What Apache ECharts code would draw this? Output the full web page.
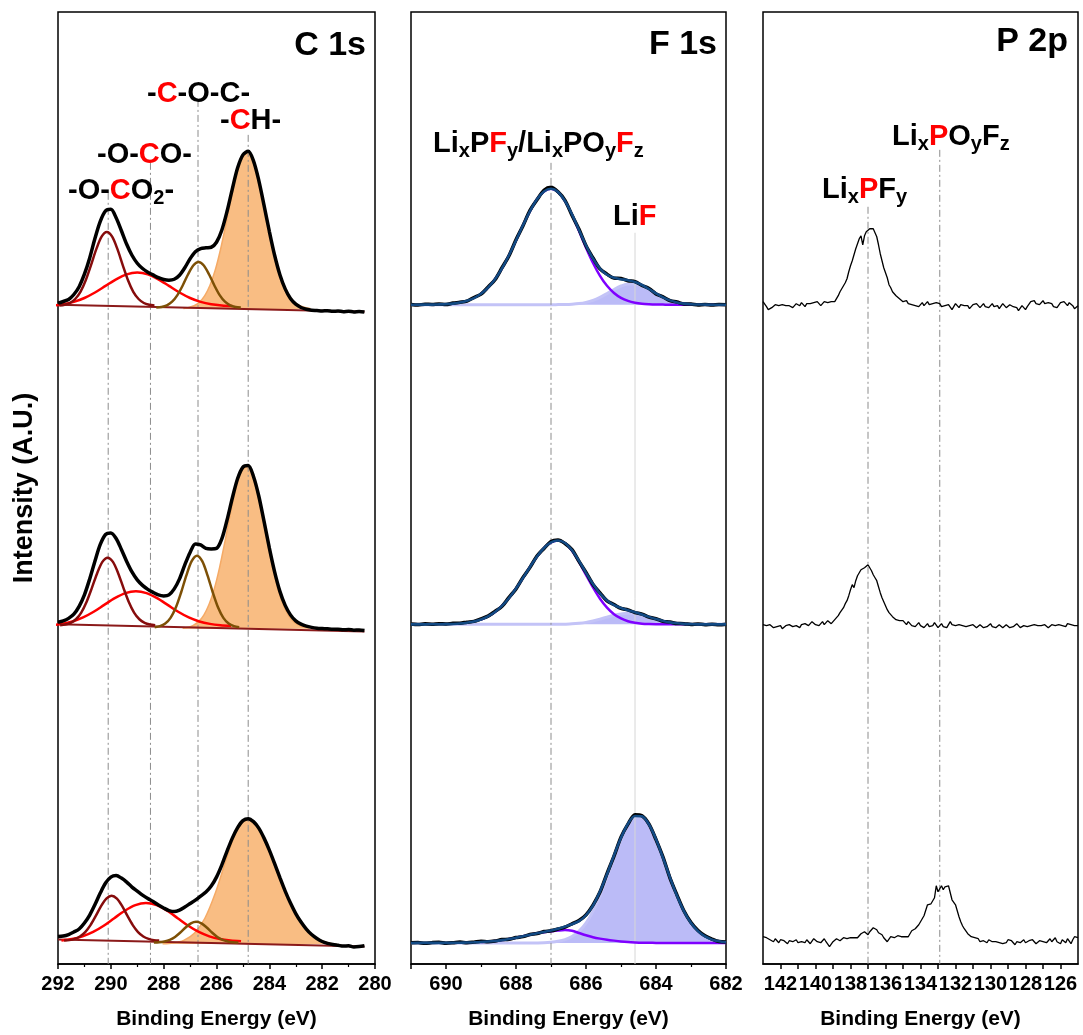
<!DOCTYPE html>
<html>
<head>
<meta charset="utf-8">
<title>XPS C 1s / F 1s / P 2p</title>
<script src="https://cdn.jsdelivr.net/npm/echarts@6/dist/echarts.min.js"></script>
<style>
  html, body { margin: 0; padding: 0; background: #fff; }
  #chart { width: 1083px; height: 1035px; }
</style>
</head>
<body>
<div id="chart"></div>
<script>
// ---- C 1s : measured spectra, 292 -> 280.4 eV, 0.2 eV step (top, middle, bottom) ----
const c1sTop = [0.15,0.32,0.52,1.02,1.80,3.05,4.68,6.65,8.35,9.40,9.55,8.70,7.40,6.05,4.95,4.15,3.62,3.25,2.98,2.70,2.52,2.45,2.55,2.95,3.70,4.60,5.30,5.62,5.70,5.75,6.25,7.45,9.35,11.6,13.7,15.0,15.35,14.4,12.45,9.95,7.35,4.95,3.0,1.58,0.62,0.05,-0.28,-0.45,-0.55,-0.58,-0.62,-0.60,-0.66,-0.63,-0.70,-0.66,-0.72,-0.68,-0.74];
const c1sMid = [0.22,0.35,0.60,1.02,1.80,2.95,4.55,6.35,8.00,9.00,9.15,8.60,7.50,6.30,5.25,4.45,3.90,3.50,3.20,2.95,2.85,2.95,3.55,4.55,5.95,7.20,8.05,7.95,7.60,7.55,7.60,8.55,10.45,12.65,14.6,15.75,15.9,14.8,12.85,10.3,7.65,5.25,3.30,1.90,0.95,0.35,0.02,-0.18,-0.30,-0.38,-0.42,-0.45,-0.50,-0.48,-0.55,-0.52,-0.58,-0.56,-0.62];
const c1sBot = [0.30,0.35,0.50,0.75,1.05,1.65,2.45,3.50,4.65,5.65,6.25,6.40,6.15,5.75,5.25,4.85,4.45,4.10,3.80,3.45,3.15,2.90,2.80,2.95,3.25,3.60,3.95,4.35,4.75,5.35,6.25,7.45,8.85,10.15,11.2,11.9,12.1,11.8,11.15,10.15,8.95,7.60,6.20,4.85,3.65,2.60,1.75,1.05,0.50,0.10,-0.20,-0.38,-0.50,-0.58,-0.66,-0.62,-0.74,-0.70,-0.62];

// C 1s fitted components (own start energy and step)
const co2Top = [-0.09,-0.01,0.17,0.57,1.29,2.45,3.97,5.56,6.81,7.28,6.81,5.56,3.97,2.45,1.29,0.57,0.17,-0.01,-0.09];
const co2Mid = [-0.09,-0.02,0.15,0.51,1.18,2.24,3.63,5.10,6.25,6.68,6.25,5.10,3.63,2.24,1.18,0.51,0.15,-0.02,-0.09];
const co2Bot = [-0.10,-0.06,0.06,0.30,0.74,1.44,2.36,3.34,4.09,4.38,4.09,3.34,2.36,1.44,0.74,0.30,0.06,-0.06,-0.10];
const coTop = [-0.08,0.04,0.28,0.67,1.22,1.88,2.54,3.04,3.22,3.04,2.54,1.88,1.22,0.67,0.28,0.04,-0.08,-0.14];
const coMid = [-0.08,0.05,0.29,0.69,1.26,1.95,2.62,3.13,3.32,3.13,2.62,1.95,1.26,0.69,0.29,0.05,-0.08,-0.14];
const coBot = [-0.09,0.05,0.32,0.76,1.38,2.14,2.88,3.44,3.65,3.44,2.88,2.14,1.38,0.76,0.32,0.05,-0.09,-0.16];
const cocTop = [-0.29,-0.23,-0.06,0.30,0.96,1.92,3.02,3.93,4.28,3.93,3.02,1.92,0.96,0.30,-0.06,-0.23,-0.29];
const cocMid = [-0.28,-0.18,0.08,0.65,1.68,3.19,4.91,6.33,6.88,6.33,4.91,3.19,1.68,0.65,0.08,-0.18,-0.28];
const cocBot = [-0.31,-0.28,-0.20,-0.04,0.26,0.70,1.20,1.62,1.78,1.62,1.20,0.70,0.26,-0.04,-0.20,-0.28,-0.31];
const chTop = [-0.38,-0.29,-0.11,0.25,0.88,1.92,3.44,5.50,7.97,10.59,12.93,14.57,15.16,14.57,12.93,10.59,7.97,5.50,3.44,1.92,0.88,0.25,-0.11,-0.29,-0.38];
const chMid = [-0.38,-0.29,-0.10,0.27,0.93,2.01,3.59,5.73,8.29,11.01,13.44,15.14,15.76,15.14,13.44,11.01,8.29,5.73,3.59,2.01,0.93,0.27,-0.10,-0.29,-0.38];
const chBot = [-0.42,-0.34,-0.08,0.62,2.13,4.68,7.95,10.84,12.01,11.18,9.07,6.35,3.78,1.82,0.56,-0.10,-0.43,-0.60];

// ---- F 1s : 691 -> 682 eV, 0.2 eV step ----
const f1sTop = [0.02,-0.04,0.05,0.03,0.08,0.02,0.16,0.24,0.36,0.72,1.05,1.76,2.50,3.70,4.90,6.50,7.90,9.45,10.5,11.45,11.75,11.3,10.45,8.95,7.55,5.90,4.68,3.58,3.06,2.66,2.62,2.40,2.31,1.92,1.62,1.08,0.78,0.40,0.27,0.08,0.07,-0.02,0.03,-0.03,0.02,0.0];
const f1sMid = [0.03,-0.02,0.05,0.02,0.06,0.04,0.10,0.12,0.22,0.30,0.55,0.82,1.30,1.80,2.70,3.55,4.70,5.70,6.85,7.60,8.30,8.45,8.10,7.48,6.30,5.20,4.00,3.15,2.35,1.98,1.60,1.45,1.18,1.02,0.72,0.56,0.30,0.23,0.08,0.07,-0.02,0.04,-0.03,0.02,-0.05,0.01];
const f1sBot = [0.02,0.05,-0.03,0.04,0.08,-0.02,0.03,0.10,0.02,0.09,0.18,0.12,0.20,0.35,0.38,0.55,0.64,0.86,0.95,1.15,1.22,1.40,1.60,1.92,2.25,2.82,3.80,5.10,6.95,8.70,10.6,11.9,12.85,12.75,11.9,10.35,8.60,6.50,4.80,3.20,2.05,1.25,0.72,0.40,0.15,0.10];
const envTop = [0,0,0.01,0.01,0.03,0.06,0.11,0.21,0.39,0.66,1.09,1.71,2.55,3.64,4.95,6.43,7.95,9.37,10.56,11.33,11.6,11.29,10.38,9.04,7.48,5.94,4.61,3.62,3.00,2.69,2.55,2.45,2.27,1.97,1.57,1.13,0.74,0.43,0.23,0.11,0.05,0.02,0.01,0,0,0];
const envMid = [0,0,0,0.01,0.01,0.02,0.04,0.08,0.16,0.28,0.48,0.79,1.24,1.85,2.64,3.59,4.65,5.75,6.79,7.64,8.21,8.4,8.15,7.42,6.36,5.16,4.04,3.09,2.40,1.93,1.64,1.41,1.21,0.98,0.75,0.53,0.34,0.20,0.11,0.05,0.02,0,0,0,0,0];
const envBot = [0,0.01,0.01,0.01,0.01,0.01,0.02,0.03,0.05,0.07,0.10,0.15,0.21,0.29,0.40,0.53,0.68,0.83,0.98,1.11,1.25,1.42,1.64,1.88,2.19,2.78,3.75,5.16,6.88,8.77,10.54,11.94,12.71,12.68,11.86,10.39,8.53,6.55,4.72,3.17,2.00,1.19,0.66,0.34,0.17,0.08];
// LiF component (691 -> 682)
const lifTop = [0,0,0,0,0,0,0,0,0,0,0,0,0,0,0,0,0,0,0,0,0,0.01,0.02,0.05,0.11,0.23,0.43,0.73,1.11,1.52,1.87,2.07,2.07,1.87,1.52,1.11,0.73,0.43,0.23,0.11,0.05,0.02,0.01,0,0,0];
const lifMid = [0,0,0,0,0,0,0,0,0,0,0,0,0,0,0,0,0,0,0,0,0,0,0.02,0.05,0.11,0.20,0.34,0.52,0.72,0.91,1.05,1.1,1.05,0.91,0.72,0.52,0.34,0.20,0.11,0.05,0.02,0,0,0,0,0];
const lifBot = [0,0,0,0,0,0,0,0,0,0,0,0,0,0,0,0,0,0,0.01,0.03,0.08,0.17,0.34,0.66,1.19,2.00,3.17,4.72,6.55,8.53,10.38,11.84,12.65,12.65,11.84,10.38,8.53,6.55,4.72,3.17,2.00,1.19,0.66,0.34,0.17,0.08];
// LixPFy / LixPOyFz component (689 -> 682)
const pfTop = [1.09,1.71,2.55,3.64,4.95,6.43,7.95,9.37,10.56,11.33,11.6,11.28,10.36,8.99,7.37,5.71,4.18,2.89,1.89,1.17,0.68,0.38,0.20,0.10,0.05,0.02,0.01,0,0,0,0,0,0,0,0,0];
const pfMid = [0.48,0.79,1.24,1.85,2.64,3.59,4.65,5.75,6.79,7.64,8.21,8.4,8.13,7.37,6.25,4.96,3.70,2.57,1.68,1.02,0.59,0.31,0.16,0.07,0.03,0.01,0,0,0,0,0,0,0,0,0,0];
const pfBot = [0.10,0.15,0.21,0.29,0.40,0.53,0.68,0.83,0.97,1.08,1.17,1.25,1.30,1.22,1.0,0.78,0.58,0.44,0.33,0.24,0.16,0.10,0.06,0.03,0.02,0.01,0,0,0,0,0,0,0,0,0,0];

// ---- P 2p : 143 -> 125 eV, 0.1 eV step ----
const p2pTop = [0.3,0.1,-0.2,-0.5,-0.6,-0.3,-0.1,0.0,-0.2,-0.1,0.1,0.0,-0.2,-0.1,0.1,-0.1,0.0,-0.3,-0.1,0.1,0.0,-0.1,0.2,0.0,-0.2,0.1,0.3,0.1,-0.1,0.2,0.0,0.3,0.2,-0.1,0.1,0.3,0.1,0.2,0.0,0.3,0.2,
  0.3,0.6,0.9,1.3,1.5,1.9,2.2,2.6,3.3,3.9,4.4,5.0,5.6,6.1,6.6,6.9,6.0,6.9,7.3,7.5,7.6,7.5,7.6,7.2,6.8,6.0,5.1,4.4,3.7,3.2,2.7,2.0,1.7,1.3,1.2,0.9,1.0,0.6,0.5,0.3,
  0.2,0.4,0.1,0.3,0.0,0.2,-0.1,0.1,-0.2,0.0,0.2,-0.1,0.1,0.3,0.0,-0.2,0.1,-0.1,0.2,0.4,
  0.1,-0.2,-0.4,-0.1,-0.3,0.0,-0.2,-0.5,-0.2,0.1,-0.1,-0.3,0.0,0.2,-0.1,-0.3,-0.1,-0.4,-0.2,0.0,
  -0.2,0.1,-0.1,-0.3,-0.1,0.1,-0.2,0.0,-0.3,-0.1,0.1,-0.2,0.0,-0.1,-0.4,-0.2,0.1,-0.1,-0.3,-0.2,
  0.0,0.1,-0.2,0.0,-0.3,-0.6,-0.4,-0.1,-0.3,-0.5,-0.2,0.0,0.3,0.1,0.4,0.1,0.3,0.0,0.2,0.4,
  0.1,-0.1,0.2,0.4,0.1,-0.2,0.0,-0.3,-0.1,0.2,0.0,0.3,0.1,-0.1,0.2,0.3,-0.1,-0.4,-0.2,-0.1];
const p2pMid = [0.2,0.4,0.1,0.0,0.2,0.1,-0.1,0.1,0.0,0.2,0.1,-0.2,0.0,0.1,-0.1,0.2,0.3,0.0,0.2,0.1,0.0,-0.1,0.2,0.1,0.3,0.4,0.1,0.2,0.5,0.3,0.2,0.4,0.1,0.3,0.5,0.2,0.3,0.6,0.4,0.3,0.5,
  0.7,0.9,1.1,1.4,1.6,1.9,2.3,2.6,3.1,3.7,4.2,3.9,4.6,5.1,5.4,5.7,5.8,5.9,6.1,6.2,6.0,5.6,5.2,4.9,4.6,4.0,3.4,2.9,2.5,2.1,1.7,1.4,1.2,1.0,0.9,0.7,0.8,0.6,0.7,0.6,
  0.4,0.2,0.5,0.3,0.1,0.3,0.0,0.2,0.4,0.1,0.2,-0.1,0.1,0.3,0.0,0.2,0.1,0.4,0.2,-0.1,
  0.1,0.3,0.0,0.2,-0.1,0.1,0.5,0.2,0.0,0.1,-0.1,0.2,0.0,0.1,0.3,0.0,-0.2,0.1,0.0,0.2,
  0.1,-0.1,0.0,0.2,0.1,-0.1,0.1,0.0,0.2,0.3,0.0,0.1,-0.1,0.0,0.2,0.1,-0.1,0.0,0.2,0.1,
  -0.1,0.1,0.0,0.2,0.3,0.1,-0.1,0.0,0.1,0.2,0.0,-0.1,0.1,0.3,0.2,0.0,0.1,0.3,0.1,0.0,
  0.2,0.1,-0.1,0.0,0.2,0.3,0.1,0.0,0.2,0.4,0.1,0.2,0.0,0.3,0.1,0.2,0.4,0.1,-0.1,0.1];
const p2pBot = [0.4,0.5,0.3,0.2,0.1,0.0,-0.1,0.2,0.0,-0.2,0.1,-0.1,0.0,-0.2,-0.3,0.0,-0.2,-0.1,-0.3,0.1,-0.2,-0.4,-0.1,0.0,-0.2,0.1,-0.1,-0.3,-0.1,0.2,0.1,-0.1,0.1,-0.2,0.0,0.2,-0.1,-0.3,-0.6,-0.4,-0.1,
  0.0,0.2,0.1,0.0,0.2,0.3,0.1,0.2,0.4,0.3,0.1,0.3,0.5,0.3,0.4,0.7,0.6,0.9,0.7,0.6,
  0.9,1.1,1.3,1.4,1.1,0.8,0.9,0.6,0.3,0.2,-0.1,0.1,0.4,0.5,0.3,0.4,0.5,0.3,0.4,0.3,
  0.4,0.3,0.4,0.7,1.0,0.9,1.2,1.4,1.6,1.9,2.2,2.5,2.7,3.6,3.7,3.7,3.9,4.3,5.5,4.9,
  5.1,5.5,5.1,5.4,5.3,5.5,4.8,4.1,4.2,3.6,3.0,2.4,1.9,1.5,1.2,1.0,0.7,0.5,0.4,0.2,
  0.3,0.1,0.2,-0.1,0.1,0.0,0.2,-0.2,0.1,0.0,-0.1,-0.3,-0.1,0.1,-0.2,0.0,-0.3,-0.1,-0.2,0.1,
  -0.1,0.0,-0.2,-0.4,-0.1,0.1,-0.2,-0.1,0.1,-0.2,-0.3,0.0,-0.2,0.1,-0.1,-0.3,-0.2,0.0,0.2,-0.1,
  0.1,-0.2,0.0,0.2,-0.1,0.1,0.3,-0.1,0.0,-0.3,0.1,0.3,-0.2,0.2,0.0,-0.3,0.1,0.4,0.2,0.3];

// vertical offsets of the three stacked spectra (top, middle, bottom)
const c1sOffsets = [66, 34, 2.45];
const f1sOffsets = [66, 34, 2.1];
const p2pOffsets = [66, 33.77, 2.33];

// peak reference lines: energy and upper end
const c1sMarks = [290.1, 288.5, 286.7, 284.8];
const c1sMarkTops = [77.2, 80.2, 86.5, 83.0];
const f1sMarks = [687.0, 684.6];
const f1sMarkTops = [80.2, 73.2];
const p2pMarks = [137.0, 132.9];
const p2pMarkTops = [75.8, 81.5];

const FONT = 'Liberation Sans, Arial, Helvetica, sans-serif';

function onGrid(start, step, values) {
  return values.map((v, i) => [+(start - i * step).toFixed(2), v]);
}
function lift(points, off) {
  return points.map(p => [p[0], p[1] + off]);
}
function curve(axis, points, off, color, width, z, extra) {
  return Object.assign({
    type: 'line', xAxisIndex: axis, yAxisIndex: axis,
    data: lift(points, off), symbol: 'none', showSymbol: false,
    smooth: 0.3, silent: true, animation: false, z: z,
    lineStyle: { color: color, width: width }
  }, extra || {});
}
function refLine(axis, x, top, color, type) {
  return {
    type: 'line', xAxisIndex: axis, yAxisIndex: axis,
    data: [[x, top], [x, 0]], symbol: 'none', silent: true, animation: false, z: 2,
    lineStyle: { color: color, width: 1, type: type }
  };
}

const series = [];
const dashDot = [7, 3, 2, 3];

// C 1s panel
const co2 = [onGrid(291.95, 0.2, co2Top), onGrid(291.92, 0.2, co2Mid), onGrid(291.77, 0.2, co2Bot)];
const co = [onGrid(292.2, 0.4, coTop), onGrid(292.25, 0.4, coMid), onGrid(291.87, 0.4, coBot)];
const coc = [onGrid(288.28, 0.2, cocTop), onGrid(288.34, 0.2, cocMid), onGrid(288.37, 0.2, cocBot)];
const ch = [onGrid(287.25, 0.2, chTop), onGrid(287.28, 0.2, chMid), onGrid(288.04, 0.4, chBot)];
const c1sData = [c1sTop, c1sMid, c1sBot];
c1sOffsets.forEach((off, k) => {
  series.push(curve(0, ch[k], off, '#f5aa66', 1.5, 1, {
    areaStyle: { color: '#f9bd83', opacity: 1, origin: off - 0.44 }
  }));
  series.push(curve(0, [[292, 0], [280.4, -0.71]], off, '#8b1a1a', 2, 3, { smooth: false }));
  series.push(curve(0, co[k], off, '#ff0000', 2.5, 3));
  series.push(curve(0, co2[k], off, '#860c0c', 2.5, 3));
  series.push(curve(0, coc[k], off, '#7d5006', 2.5, 3));
  series.push(curve(0, onGrid(292, 0.2, c1sData[k]), off, '#000', 3.5, 4));
});
c1sMarks.forEach((x, i) => series.push(refLine(0, x, c1sMarkTops[i], '#8c8c8c', dashDot)));

// F 1s panel
const lif = [lifTop, lifMid, lifBot];
const pf = [pfTop, pfMid, pfBot];
const f1sData = [f1sTop, f1sMid, f1sBot];
const env = [envTop, envMid, envBot];
f1sOffsets.forEach((off, k) => {
  series.push(curve(1, onGrid(691, 0.2, lif[k]), off, '#c3c3f7', 3, 1, {
    areaStyle: { color: '#bbbbf7', opacity: 1, origin: off }
  }));
  series.push(curve(1, onGrid(689, 0.2, pf[k]), off, '#7f00ff', 2.5, 3));
  series.push(curve(1, onGrid(691, 0.2, f1sData[k]), off, '#000', 3.5, 4));
  series.push(curve(1, onGrid(691, 0.2, env[k]), off, '#124a84', 2.6, 5));
});
series.push(refLine(1, f1sMarks[0], f1sMarkTops[0], '#8c8c8c', dashDot));
series.push(refLine(1, f1sMarks[1], f1sMarkTops[1], '#d6d6d6', 'solid'));

// P 2p panel
const p2pData = [p2pTop, p2pMid, p2pBot];
p2pOffsets.forEach((off, k) => {
  series.push(curve(2, onGrid(143, 0.1, p2pData[k]), off, '#000', 1.3, 4, { smooth: false }));
});
p2pMarks.forEach((x, i) => series.push(refLine(2, x, p2pMarkTops[i], '#8c8c8c', dashDot)));

// axes
const tickLabel = { color: '#000', fontSize: 20, fontWeight: 'bold', fontFamily: FONT, margin: 10, hideOverlap: false };
const axisName = { color: '#000', fontSize: 21, fontWeight: 'bold', fontFamily: FONT };
function xAxis(i, min, max, extra) {
  return Object.assign({
    gridIndex: i, type: 'value', inverse: true, min: min, max: max,
    name: 'Binding Energy (eV)', nameLocation: 'middle', nameGap: 45, nameTextStyle: axisName,
    axisLine: { show: true, lineStyle: { color: '#000', width: 1.5 } },
    axisTick: { show: true, inside: false, length: 5, lineStyle: { color: '#000', width: 1.5 } },
    minorTick: { show: true, splitNumber: 2, length: 3, lineStyle: { color: '#000', width: 1.2 } },
    axisLabel: Object.assign({}, tickLabel),
    splitLine: { show: false }, minorSplitLine: { show: false }
  }, extra);
}
const p2pLabelValues = [126, 128, 130, 132, 134, 136, 138, 140, 142];
const p2pTickValues = [126,127,128,129,130,131,132,133,134,135,136,137,138,139,140,141,142];

const xAxes = [
  xAxis(0, 280, 292, { interval: 2 }),
  xAxis(1, 682, 691, { interval: 2, axisLabel: Object.assign({}, tickLabel, { showMaxLabel: false }) }),
  xAxis(2, 125, 143, {
    minorTick: { show: false },
    axisTick: { show: true, inside: false, length: 5, customValues: p2pTickValues, lineStyle: { color: '#000', width: 1.5 } },
    axisLabel: Object.assign({}, tickLabel, { customValues: p2pLabelValues })
  })
];
const yAxes = [0, 1, 2].map(i => ({
  gridIndex: i, type: 'value', min: 0, max: 95.3, show: i === 0,
  name: i === 0 ? 'Intensity (A.U.)' : '', nameLocation: 'middle', nameGap: 20,
  nameTextStyle: { color: '#000', fontSize: 27, fontWeight: 'bold', fontFamily: FONT },
  axisLine: { show: false }, axisTick: { show: false }, axisLabel: { show: false }, splitLine: { show: false }
}));

const gridBox = { top: 12, height: 953, show: true, borderColor: '#000', borderWidth: 1.5, containLabel: false };
const grids = [
  Object.assign({ left: 58, width: 317 }, gridBox),
  Object.assign({ left: 411, width: 315 }, gridBox),
  Object.assign({ left: 763, width: 315 }, gridBox)
];

// annotation text
const rich = {
  k: { fontSize: 29, fontWeight: 'bold', fontFamily: FONT, fill: '#000', lineHeight: 34 },
  r: { fontSize: 29, fontWeight: 'bold', fontFamily: FONT, fill: '#ff0000', lineHeight: 34 },
  s: { fontSize: 20, fontWeight: 'bold', fontFamily: FONT, fill: '#000', lineHeight: 16, verticalAlign: 'bottom' }
};
function chem(x, y, text) {
  return { type: 'text', x: x, y: y, silent: true, z: 100,
    style: { text: text, rich: rich, align: 'left', verticalAlign: 'middle', textAlign: 'left', textVerticalAlign: 'middle' } };
}
function title(x, y, text) {
  return { type: 'text', x: x, y: y, silent: true, z: 100,
    style: { text: text, fill: '#000', font: 'bold 34px ' + FONT, align: 'right', verticalAlign: 'middle', textAlign: 'right', textVerticalAlign: 'middle' } };
}
const graphic = [
  title(366, 46, 'C 1s'),
  title(717, 45, 'F 1s'),
  title(1068, 42, 'P 2p'),
  chem(147, 93.5, '{k|-}{r|C}{k|-O-C-}'),
  chem(220, 121, '{k|-}{r|C}{k|H-}'),
  chem(97, 155, '{k|-O-}{r|C}{k|O-}'),
  chem(68, 191, '{k|-O-}{r|C}{k|O}{s|2}{k|-}'),
  chem(433, 144, '{k|Li}{s|x}{k|P}{r|F}{s|y}{k|/Li}{s|x}{k|PO}{s|y}{r|F}{s|z}'),
  chem(613, 216.5, '{k|Li}{r|F}'),
  chem(892, 137, '{k|Li}{s|x}{r|P}{k|O}{s|y}{k|F}{s|z}'),
  chem(822, 190, '{k|Li}{s|x}{r|P}{k|F}{s|y}')
];

const chart = echarts.init(document.getElementById('chart'), null, { renderer: 'canvas' });
chart.setOption({
  animation: false,
  backgroundColor: '#fff',
  grid: grids,
  xAxis: xAxes,
  yAxis: yAxes,
  series: series,
  graphic: graphic
});
window.addEventListener('resize', chart.resize);
</script>
</body>
</html>
